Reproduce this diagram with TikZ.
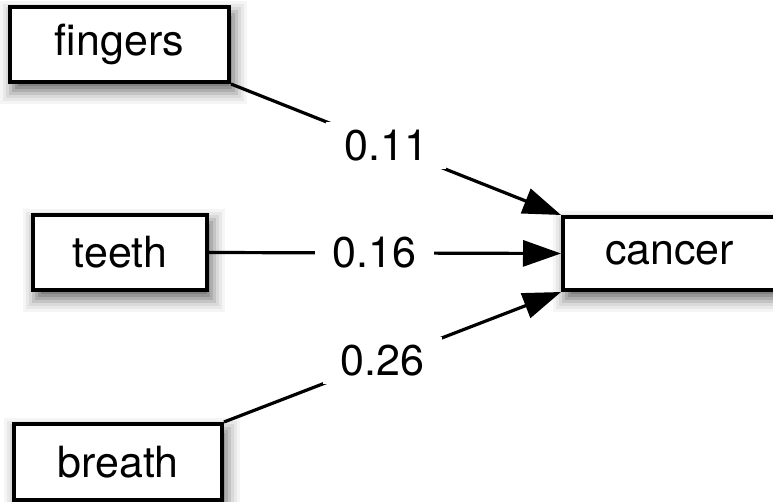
\documentclass[tikz,border=0pt]{standalone}
\usepackage{fontspec}
\setmainfont{TeX Gyre Heros}
\usetikzlibrary{arrows.meta}
\begin{document}
\begin{tikzpicture}[x=1pt,y=-1pt,
  every node/.style={font=\fontsize{43}{48}\selectfont},
  box/.style={draw, line width=4pt, fill=white, rectangle, inner sep=0pt},
  weight/.style={fill=white, inner xsep=18pt, inner ysep=8pt, pos=0.47},
  link/.style={line width=3.2pt},
  arr/.style={link, -{Triangle[length=38pt,width=26pt]}},
  shadeA/.style={fill=black!4}, shadeB/.style={fill=black!9},
  shadeC/.style={fill=black!15}, shadeD/.style={fill=black!23},
  shadeE/.style={fill=black!32}, shadeF/.style={fill=black!41},
  shadeG/.style={fill=black!50}, shadeH/.style={fill=black!57}]
\useasboundingbox (0,0) rectangle (773,502);

% soft shadow under "fingers": nested rectangles, darkest in the middle
\path[shadeA] (0,1) rectangle (247,104);
\path[shadeB] (3,4) rectangle (244,101);
\path[shadeC] (6,7) rectangle (241,98);
\path[shadeD] (9,10) rectangle (238,95);
\path[shadeE] (12,13) rectangle (235,92);
\path[shadeF] (15,16) rectangle (232,89);
\path[shadeG] (18,19) rectangle (229,86);
\path[shadeH] (21,22) rectangle (226,83);
% soft shadow under "teeth"
\path[shadeA] (23,209) rectangle (225,312);
\path[shadeB] (26,212) rectangle (222,309);
\path[shadeC] (29,215) rectangle (219,306);
\path[shadeD] (32,218) rectangle (216,303);
\path[shadeE] (35,221) rectangle (213,300);
\path[shadeF] (38,224) rectangle (210,297);
\path[shadeG] (41,227) rectangle (207,294);
\path[shadeH] (44,230) rectangle (204,291);
% soft shadow under "breath"
\path[shadeA] (4,418) rectangle (240,522);
\path[shadeB] (7,421) rectangle (237,519);
\path[shadeC] (10,424) rectangle (234,516);
\path[shadeD] (13,427) rectangle (231,513);
\path[shadeE] (16,430) rectangle (228,510);
\path[shadeF] (19,433) rectangle (225,507);
\path[shadeG] (22,436) rectangle (222,504);
\path[shadeH] (25,439) rectangle (219,501);
% soft shadow under "cancer"
\path[shadeA] (553,211) rectangle (811,312);
\path[shadeB] (556,214) rectangle (808,309);
\path[shadeC] (559,217) rectangle (805,306);
\path[shadeD] (562,220) rectangle (802,303);
\path[shadeE] (565,223) rectangle (799,300);
\path[shadeF] (568,226) rectangle (796,297);
\path[shadeG] (571,229) rectangle (793,294);
\path[shadeH] (574,232) rectangle (790,291);

% variables
\node[box, minimum width=219pt, minimum height=75pt] (fingers) at (119.5,44.5) {fingers};
\node[box, minimum width=174pt, minimum height=75pt] (teeth) at (120,252.5) {teeth};
\node[box, minimum width=208pt, minimum height=76pt] (breath) at (118,462) {breath};
\node[box, minimum width=230pt, minimum height=73pt, text width=210pt, align=left] (cancer) at (678,253.5) {\hspace*{32pt}cancer};

% weighted links
\draw[arr] (fingers.south east) -- node[weight] {0.11} (cancer.north west);
\draw[arr] (teeth.east) -- node[weight] {0.16} (cancer.west);
\draw[arr] (breath.north east) -- node[weight] {0.26} (cancer.south west);
\end{tikzpicture}
\end{document}
